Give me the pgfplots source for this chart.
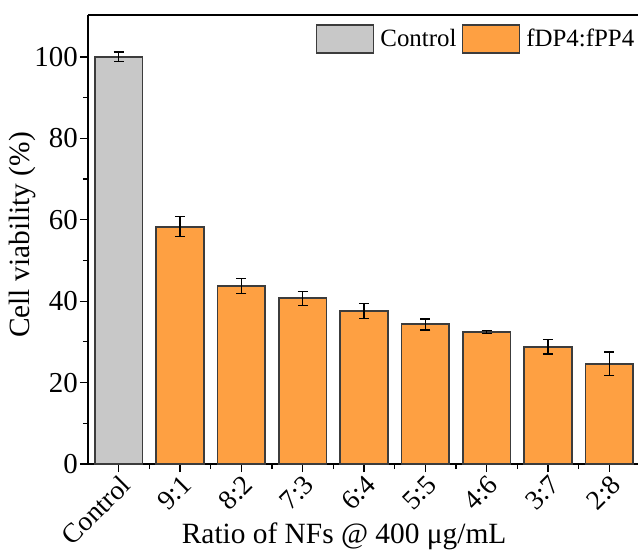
\documentclass[border=0pt]{standalone}
\usepackage{fontspec}
\setmainfont{Liberation Serif}
\usepackage{pgfplots}
\pgfplotsset{compat=1.18}
\definecolor{ctrl}{RGB}{200,200,200}
\definecolor{orng}{RGB}{254,160,66}
\definecolor{edge}{RGB}{60,60,60}
\begin{document}
\begin{tikzpicture}
\begin{axis}[
  scale only axis, width=552bp, height=449bp,
  xmin=-0.5, xmax=8.5, ymin=0, ymax=110.3,
  axis y line*=left,
  xtick={0,...,8},
  xticklabels={Control,9:1,8:2,7:3,6:4,5:5,4:6,3:7,2:8},
  minor xtick={0.5,1.5,...,7.5},
  ytick={0,20,...,100}, minor ytick={10,30,...,90},
  tick pos=left, tick align=outside,
  major tick length=8bp, minor tick length=5bp,
  every tick/.style={black, line width=1.2bp},
  axis line style={line width=1.5bp},
  /pgf/number format/assume math mode=true,
  yticklabel style={font=\fontsize{29}{34}\selectfont, inner sep=2bp},
  xticklabel style={font=\fontsize{27.5}{32}\selectfont, rotate=45, anchor=north east, inner sep=1bp},
  label style={font=\fontsize{29.5}{34}\selectfont},
  xlabel={Ratio of NFs @ 400 μg/mL},
  ylabel={Cell viability (\%)},
  xlabel style={at={(axis description cs:0.464,-0.176)}, anchor=base},
  ylabel style={at={(axis description cs:-0.118,0.51)}, anchor=center},
  legend image code/.code={\draw[#1,line width=1.8bp,draw=edge] (0bp,-14bp) rectangle (57bp,14bp);},
  legend style={draw=none, fill=none, legend columns=-1,
    at={(rel axis cs:0.999,0.985)}, anchor=north east,
    font=\fontsize{25}{30}\selectfont,
    /tikz/every even column/.append style={column sep=3bp},
    /tikz/every odd column/.append style={column sep=4bp}},
]
\addplot[ybar, bar width=0.78, bar shift=0pt, fill=ctrl, draw=edge, line width=1.8bp,
  error bars/.cd, y dir=both, y explicit,
  error bar style={black, line width=1.3bp},
  error mark options={rotate=90, mark size=5bp, line width=1.3bp, black}]
  coordinates {(0,100) +- (0,1.2)};
\addlegendentry{Control}
\addplot[ybar, bar width=0.78, bar shift=0pt, fill=orng, draw=edge, line width=1.8bp,
  error bars/.cd, y dir=both, y explicit,
  error bar style={black, line width=1.3bp},
  error mark options={rotate=90, mark size=5bp, line width=1.3bp, black}]
  coordinates {
  (1,58.3) +- (0,2.5)
  (2,43.7) +- (0,1.85)
  (3,40.7) +- (0,1.7)
  (4,37.6) +- (0,1.85)
  (5,34.3) +- (0,1.35)
  (6,32.4) +- (0,0.4)
  (7,28.8) +- (0,1.8)
  (8,24.6) +- (0,2.9)
  };
\addlegendentry{fDP4:fPP4}
\coordinate (bbll) at (rel axis cs:-0.1594,-0.1938);
\coordinate (bbur) at (rel axis cs:0.9964,1.0334);
\end{axis}
\pgfresetboundingbox
\path[use as bounding box] (bbll) rectangle (bbur);
\end{tikzpicture}
\end{document}
